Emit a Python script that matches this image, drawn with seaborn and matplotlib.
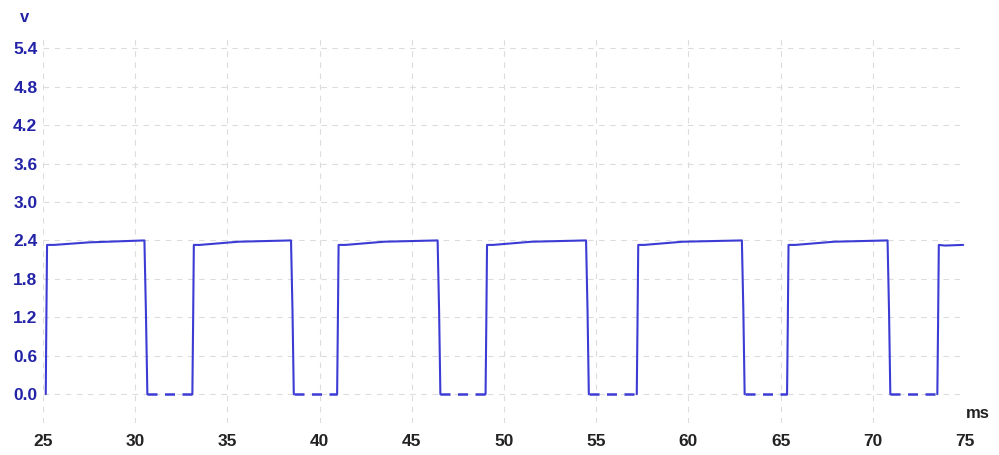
import numpy as np
import pandas as pd
import matplotlib
matplotlib.use('Agg')
import matplotlib.pyplot as plt
import seaborn as sns

# scope trace (ms, V)
pulse_t = [
    [25.15, 25.18, 25.22, 25.6, 27.5, 30.5, 30.58, 30.66],
    [33.1, 33.14, 33.18, 33.5, 35.6, 38.45, 38.53, 38.6],
    [40.95, 40.99, 41.03, 41.4, 43.5, 46.4, 46.48, 46.55],
    [49.0, 49.04, 49.08, 49.4, 51.5, 54.45, 54.53, 54.6],
    [57.2, 57.24, 57.28, 57.6, 59.7, 62.9, 62.98, 63.05],
    [65.35, 65.39, 65.43, 65.8, 67.9, 70.8, 70.88, 70.95],
    [73.5, 73.54, 73.58, 73.9, 74.9],
]
pulse_v = [
    [0.0, 1.1, 2.33, 2.33, 2.37, 2.40, 1.3, 0.0],
    [0.0, 1.1, 2.33, 2.33, 2.38, 2.40, 1.3, 0.0],
    [0.0, 1.1, 2.33, 2.33, 2.38, 2.40, 1.3, 0.0],
    [0.0, 1.1, 2.33, 2.33, 2.38, 2.40, 1.3, 0.0],
    [0.0, 1.1, 2.33, 2.33, 2.38, 2.40, 1.3, 0.0],
    [0.0, 1.1, 2.33, 2.33, 2.38, 2.40, 1.3, 0.0],
    [0.0, 1.1, 2.33, 2.32, 2.33],
]
low_t = [[30.66, 33.1], [38.6, 40.95], [46.55, 49.0],
         [54.6, 57.2], [63.05, 65.35], [70.95, 73.5]]
low_v = [[0.0, 0.0]] * 6

x_ticks = [25, 30, 35, 40, 45, 50, 55, 60, 65, 70, 75]
y_ticks = [0.0, 0.6, 1.2, 1.8, 2.4, 3.0, 3.6, 4.2, 4.8, 5.4]

def to_frame(ts, vs):
    rows = []
    for i, (tt, vv) in enumerate(zip(ts, vs)):
        for a, b in zip(tt, vv):
            rows.append((a, b, i))
    return pd.DataFrame(rows, columns=['t', 'v', 'seg'])

pulses = to_frame(pulse_t, pulse_v)
lows = to_frame(low_t, low_v)

sns.set_style('white')
plt.rcParams['font.family'] = ['Liberation Sans', 'DejaVu Sans']

trace = '#3c3cd4'
blue = '#2323a8'

fig = plt.figure(figsize=(9.99, 4.55), dpi=100)
ax = fig.add_axes([43 / 999, 1 - 423 / 455, (965 - 43) / 999, (423 - 38) / 455])

sns.lineplot(data=pulses, x='t', y='v', units='seg', estimator=None, sort=False,
             color=trace, lw=1.5, ax=ax)
sns.lineplot(data=lows, x='t', y='v', units='seg', estimator=None, sort=False,
             color=trace, lw=1.8, ax=ax, dashes=False)
for line in ax.lines[-6:]:
    line.set_dashes([4, 3])

ax.set_xlim(25, 75)
ax.set_ylim(-0.45, 5.56)
ax.set_xticks(x_ticks)
ax.set_yticks(y_ticks)
ax.set_xticklabels([str(x) for x in x_ticks], fontsize=12.5, fontweight='bold', color='#222222')
ax.set_yticklabels(['%.1f' % y for y in y_ticks], fontsize=12.5, fontweight='bold', color=blue)
ax.tick_params(length=0)
ax.tick_params(axis='x', pad=8)
ax.tick_params(axis='y', pad=4)
ax.grid(True, color='#dcdcdc', ls=(0, (5, 5)), lw=0.8)
for s in ax.spines.values():
    s.set_visible(False)
ax.set_xlabel('')
ax.set_ylabel('')

fig.text(25 / 999, 1 - 18 / 455, 'v', color=blue, fontsize=12, fontweight='bold',
         ha='center', va='center')
fig.text(978 / 999, 1 - 414 / 455, 'ms', color='#222222', fontsize=12, fontweight='bold',
         ha='center', va='center')

fig.savefig('out.png', dpi=100)
